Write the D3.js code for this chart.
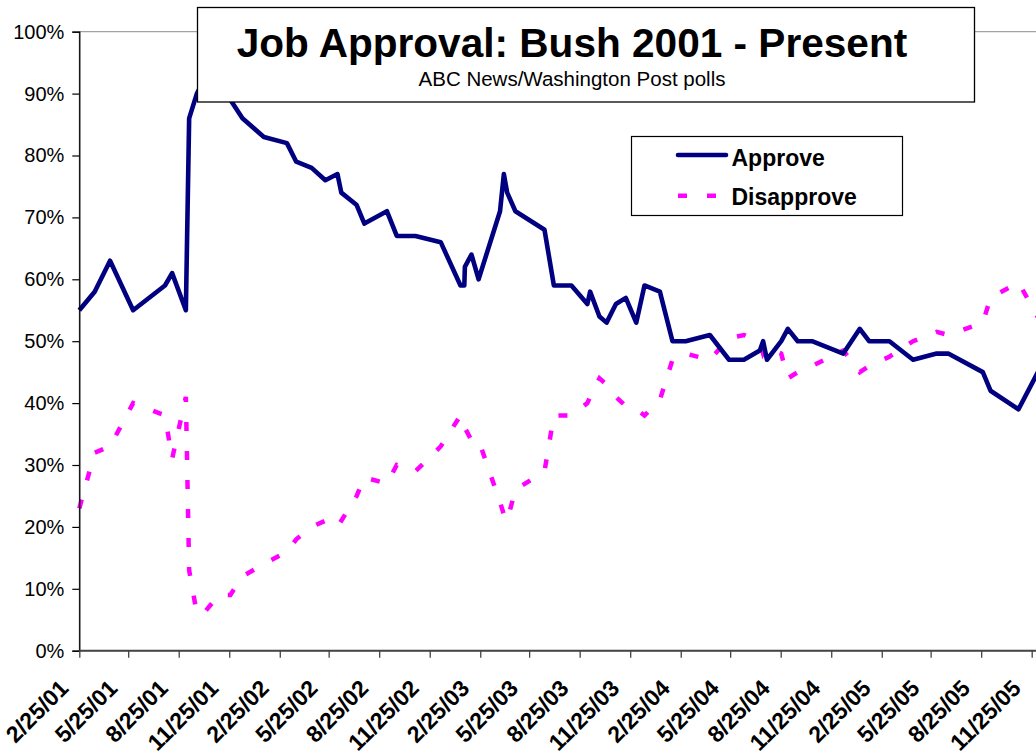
<!DOCTYPE html>
<html>
<head>
<meta charset="utf-8">
<script src="https://cdn.jsdelivr.net/npm/d3@7"></script>
<style>
  html, body { margin: 0; padding: 0; background: #fff; }
  svg { display: block; }
  text { font-family: Arial, "Liberation Sans", sans-serif; }
</style>
</head>
<body>
<svg id="chart" width="1036" height="753"></svg>
<script>
// ---------- data ----------
const pollDates = [
  "2001-02-25","2001-03-25","2001-04-22","2001-06-03","2001-07-31","2001-08-13","2001-09-07",
  "2001-09-13","2001-09-27","2001-10-09","2001-11-06","2001-11-27","2001-12-19",
  "2002-01-27","2002-03-10","2002-03-27","2002-04-24","2002-05-19","2002-06-10","2002-06-17",
  "2002-07-15","2002-07-29","2002-09-08","2002-09-26","2002-10-30","2002-12-15",
  "2003-01-20","2003-01-27","2003-01-28","2003-02-09","2003-02-22","2003-04-02","2003-04-09",
  "2003-04-15","2003-04-30","2003-06-22","2003-07-09","2003-08-10","2003-09-08","2003-09-13",
  "2003-09-30","2003-10-13","2003-10-30","2003-11-17","2003-12-06","2003-12-21",
  "2004-01-18","2004-02-10","2004-03-05","2004-04-18","2004-05-23","2004-06-19","2004-07-18",
  "2004-07-24","2004-07-31","2004-08-26","2004-09-07","2004-09-25","2004-10-21","2004-12-17",
  "2005-01-16","2005-02-02","2005-03-11","2005-04-23","2005-06-05","2005-06-26","2005-08-28",
  "2005-09-11","2005-11-01","2005-12-18"
];
const approve = [
  55,58,63,55,59,61,55,
  86,90,92,89,89,86,
  83,82,79,78,76,77,74,
  72,69,71,67,67,66,
  59,59,62,64,60,71,77,
  74,71,68,59,59,56,58,
  54,53,56,57,53,59,
  58,50,50,51,47,47,48.5,
  50,47,50,52,50,50,48,
  52,50,50,47,48,48,45,
  42,39,47
];
const disapprove = [
  23,32,33,40,38,31,41,
  13,6,6,9,9,12,
  14,16,18,20,21,20,21,
  25,28,27,30,29,33,
  38,37,36,34,34,24,22,
  21,26,29,38,38,40,41,
  44,43,41,39.5,39,38,
  40.5,47,48,47,50.5,51,50,
  48,49,48,44,45,46,48.5,
  45,46,47.5,50,51.5,51,53,
  57,59.5,52
];
const yTickValues = [0,10,20,30,40,50,60,70,80,90,100];
const xTickLabels = [
  "2/25/01","5/25/01","8/25/01","11/25/01","2/25/02","5/25/02","8/25/02","11/25/02",
  "2/25/03","5/25/03","8/25/03","11/25/03","2/25/04","5/25/04","8/25/04","11/25/04",
  "2/25/05","5/25/05","8/25/05","11/25/05"
];
const seriesNames = ["Approve","Disapprove"];
const titleText = "Job Approval: Bush 2001 - Present";
const subtitleText = "ABC News/Washington Post polls";

// ---------- setup ----------
const svg = d3.select("#chart");
const parseISO = d3.timeParse("%Y-%m-%d");
const parseTick = d3.timeParse("%m/%d/%y");
const dates = pollDates.map(parseISO);
const tickDates = xTickLabels.map(parseTick);

const plotLeft = 79.3, plotTop = 31.7, plotBottom = 650.7;
const x = d3.scaleTime()
  .domain([tickDates[0], tickDates[tickDates.length - 1]])
  .range([plotLeft, 1031.7]);
const y = d3.scaleLinear().domain([0, 100]).range([plotBottom, plotTop]);

// plot area border (gray), extends beyond the cropped right edge
svg.append("rect")
  .attr("x", plotLeft).attr("y", plotTop)
  .attr("width", 1100 - plotLeft).attr("height", plotBottom - plotTop)
  .attr("fill", "none").attr("stroke", "#8c8c8c").attr("stroke-width", 1);

// series lines
const approveData = dates.map((d, i) => ({ d, v: approve[i] }));
const disData = dates.map((d, i) => ({ d, v: disapprove[i] }));
const line = d3.line().x(p => x(p.d)).y(p => y(p.v));

svg.append("path").datum(disData)
  .attr("d", line).attr("fill", "none")
  .attr("stroke", "#ff00ff").attr("stroke-width", 4.5)
  .attr("stroke-dasharray", "9,20");

svg.append("path").datum(approveData)
  .attr("d", line).attr("fill", "none")
  .attr("stroke", "#000080").attr("stroke-width", 4.6)
  .attr("stroke-linejoin", "round");

// y axis
const yAxis = svg.append("g").attr("transform", `translate(${plotLeft},0)`)
  .call(d3.axisLeft(y).tickValues(yTickValues).tickSize(7).tickPadding(8)
    .tickFormat(d => d + "%"));
yAxis.select(".domain").attr("stroke", "#000").attr("stroke-width", 1.3);
yAxis.selectAll(".tick line").attr("stroke", "#000").attr("stroke-width", 1.2);
yAxis.selectAll(".tick text").attr("font-size", 20).attr("fill", "#000")
  .attr("font-family", "Arial, 'Liberation Sans', sans-serif");

// x axis
const xAxis = svg.append("g").attr("transform", `translate(0,${plotBottom})`)
  .call(d3.axisBottom(x).tickValues(tickDates).tickSize(7)
    .tickFormat((d, i) => xTickLabels[i]));
xAxis.select(".domain").attr("d", `M${plotLeft},0H1100`)
  .attr("stroke", "#444").attr("stroke-width", 2);
xAxis.selectAll(".tick line").attr("stroke", "#444").attr("stroke-width", 1.3);
xAxis.selectAll(".tick text")
  .attr("font-size", 23).attr("font-weight", "bold").attr("fill", "#000")
  .attr("font-family", "Arial, 'Liberation Sans', sans-serif")
  .attr("text-anchor", "end")
  .attr("dy", null).attr("y", null)
  .attr("transform", "translate(-10,39) rotate(-45)");

// title box
svg.append("rect")
  .attr("x", 197.5).attr("y", 7.5).attr("width", 777).attr("height", 94.5)
  .attr("fill", "#fff").attr("stroke", "#000").attr("stroke-width", 1.3);
svg.append("text").attr("x", 572).attr("y", 57)
  .attr("text-anchor", "middle").attr("font-size", 40.6).attr("font-weight", "bold")
  .text(titleText);
svg.append("text").attr("x", 572).attr("y", 86)
  .attr("text-anchor", "middle").attr("font-size", 20.5)
  .text(subtitleText);

// legend
const lg = svg.append("g");
lg.append("rect").attr("x", 631.5).attr("y", 136.5).attr("width", 271).attr("height", 79)
  .attr("fill", "#fff").attr("stroke", "#000").attr("stroke-width", 1.2);
lg.append("line").attr("x1", 678).attr("x2", 726).attr("y1", 155).attr("y2", 155)
  .attr("stroke", "#000080").attr("stroke-width", 4.6).attr("stroke-linecap", "round");
lg.append("line").attr("x1", 678).attr("x2", 726).attr("y1", 195.7).attr("y2", 195.7)
  .attr("stroke", "#ff00ff").attr("stroke-width", 4.5).attr("stroke-dasharray", "9,20");
lg.append("text").attr("x", 731.5).attr("y", 165.5)
  .attr("font-size", 23).attr("font-weight", "bold").text(seriesNames[0]);
lg.append("text").attr("x", 731.5).attr("y", 205)
  .attr("font-size", 23).attr("font-weight", "bold").text(seriesNames[1]);
</script>
</body>
</html>
